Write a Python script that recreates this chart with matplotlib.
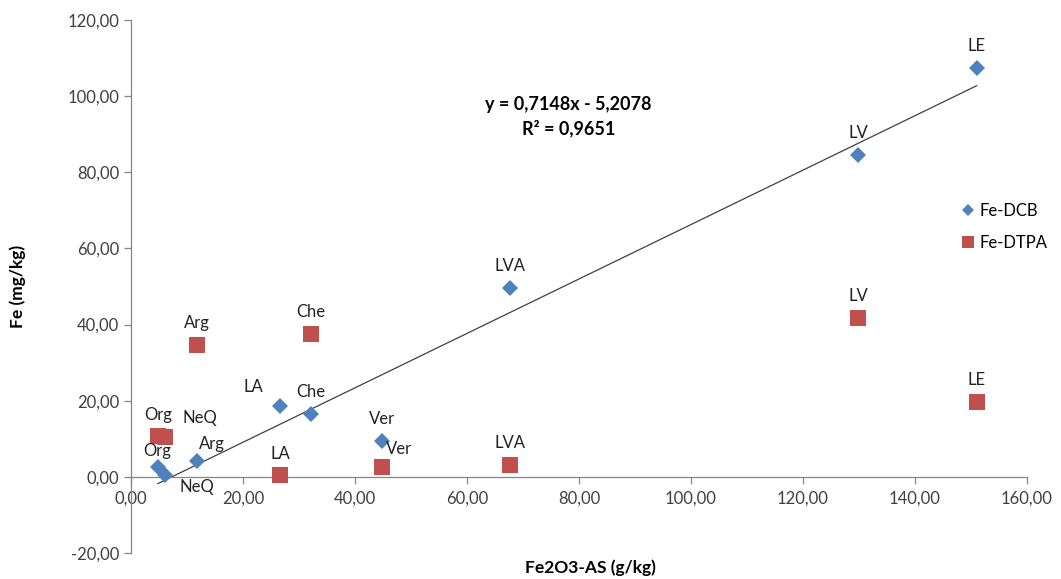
import matplotlib
matplotlib.use("Agg")
import matplotlib.pyplot as plt
from matplotlib.ticker import FuncFormatter, MultipleLocator
from matplotlib.lines import Line2D

plt.rcParams['font.family'] = ['Lato', 'DejaVu Sans']

# Soil samples
samples = ["Org", "NeQ", "Arg", "LA", "Che", "Ver", "LVA", "LV", "LE"]
fe2o3_as = [4.8, 6.1, 11.8, 26.6, 32.1, 44.8, 67.7, 129.8, 151.0]   # g/kg
fe_dcb = [2.6, 0.4, 4.2, 18.7, 16.6, 9.5, 49.7, 84.5, 107.4]        # mg/kg
fe_dtpa = [10.8, 10.5, 34.7, 0.5, 37.6, 2.6, 3.2, 41.8, 19.7]       # mg/kg

# Linear fit of Fe-DCB vs Fe2O3-AS
slope = 0.7148
intercept = -5.2078
r2 = 0.9651

# Label offsets in pixels (dx, dy) relative to each marker
dcb_offsets = [(-1, 16), (32, -12), (15, 17), (-27, 19), (0, 22), (0, 22), (0, 22), (0, 22), (0, 22)]
dtpa_offsets = [(0, 21), (35, 19), (0, 22), (0, 21), (0, 22), (17, 18), (0, 22), (0, 22), (0, 22)]

blue = "#4F81BD"
red = "#C0504D"
axis_grey = "#868686"

fig = plt.figure(figsize=(10.61, 5.79), dpi=100)
ax = fig.add_axes([131 / 1061, 26 / 579, 896 / 1061, 533 / 579])

ax.plot(fe2o3_as, fe_dcb, linestyle="none", marker="D", markersize=8,
        color=blue, markeredgewidth=0, label="Fe-DCB", zorder=3)
ax.plot(fe2o3_as, fe_dtpa, linestyle="none", marker="s", markersize=11,
        color=red, markeredgewidth=0, label="Fe-DTPA", zorder=3)

x0, x1 = min(fe2o3_as), max(fe2o3_as)
ax.plot([x0, x1], [slope * x0 + intercept, slope * x1 + intercept],
        color="#404040", linewidth=0.9, zorder=2)

for name, x, y, off in zip(samples, fe2o3_as, fe_dcb, dcb_offsets):
    ax.annotate(name, (x, y), xytext=off, textcoords="offset pixels",
                ha="center", va="center", fontsize=12, color="#222222")
for name, x, y, off in zip(samples, fe2o3_as, fe_dtpa, dtpa_offsets):
    ax.annotate(name, (x, y), xytext=off, textcoords="offset pixels",
                ha="center", va="center", fontsize=12, color="#222222")

ax.text(0.488, 0.842, f"y = {slope:.4f}x - {abs(intercept):.4f}".replace(".", ","),
        transform=ax.transAxes, ha="center", va="center",
        fontsize=13, fontweight="bold")
ax.text(0.488, 0.797, f"R² = {r2:.4f}".replace(".", ","),
        transform=ax.transAxes, ha="center", va="center",
        fontsize=13, fontweight="bold")

ax.set_xlim(0, 160)
ax.set_ylim(-20, 120)
ax.xaxis.set_major_locator(MultipleLocator(20))
ax.yaxis.set_major_locator(MultipleLocator(20))
comma = FuncFormatter(lambda v, p: f"{v:.2f}".replace(".", ","))
ax.xaxis.set_major_formatter(comma)
ax.yaxis.set_major_formatter(comma)

for s in ("top", "right"):
    ax.spines[s].set_visible(False)
ax.spines["bottom"].set_position(("data", 0))
for s in ("left", "bottom"):
    ax.spines[s].set_color(axis_grey)
    ax.spines[s].set_linewidth(0.9)
ax.tick_params(axis="both", colors=axis_grey, length=5, width=0.9,
               labelcolor="#404040", labelsize=12)
ax.tick_params(axis="x", pad=5)
ax.patch.set_visible(False)

fig.text(590 / 1061, 1 - 568 / 579, "Fe2O3-AS (g/kg)", ha="center", va="center",
         fontsize=12.5, fontweight="bold")
fig.text(18 / 1061, 1 - 286 / 579, "Fe (mg/kg)", ha="center", va="center",
         rotation=90, fontsize=12.5, fontweight="bold")

handles = [Line2D([], [], linestyle="none", marker="D", markersize=6, color=blue, markeredgewidth=0),
           Line2D([], [], linestyle="none", marker="s", markersize=9, color=red, markeredgewidth=0)]
fig.legend(handles, ["Fe-DCB", "Fe-DTPA"], loc="upper left",
           bbox_to_anchor=(946 / 1061, 1 - 188 / 579), frameon=False,
           fontsize=12, handlelength=0.8, handletextpad=0.3, labelspacing=0.95)

fig.savefig("out.png", dpi=100)
